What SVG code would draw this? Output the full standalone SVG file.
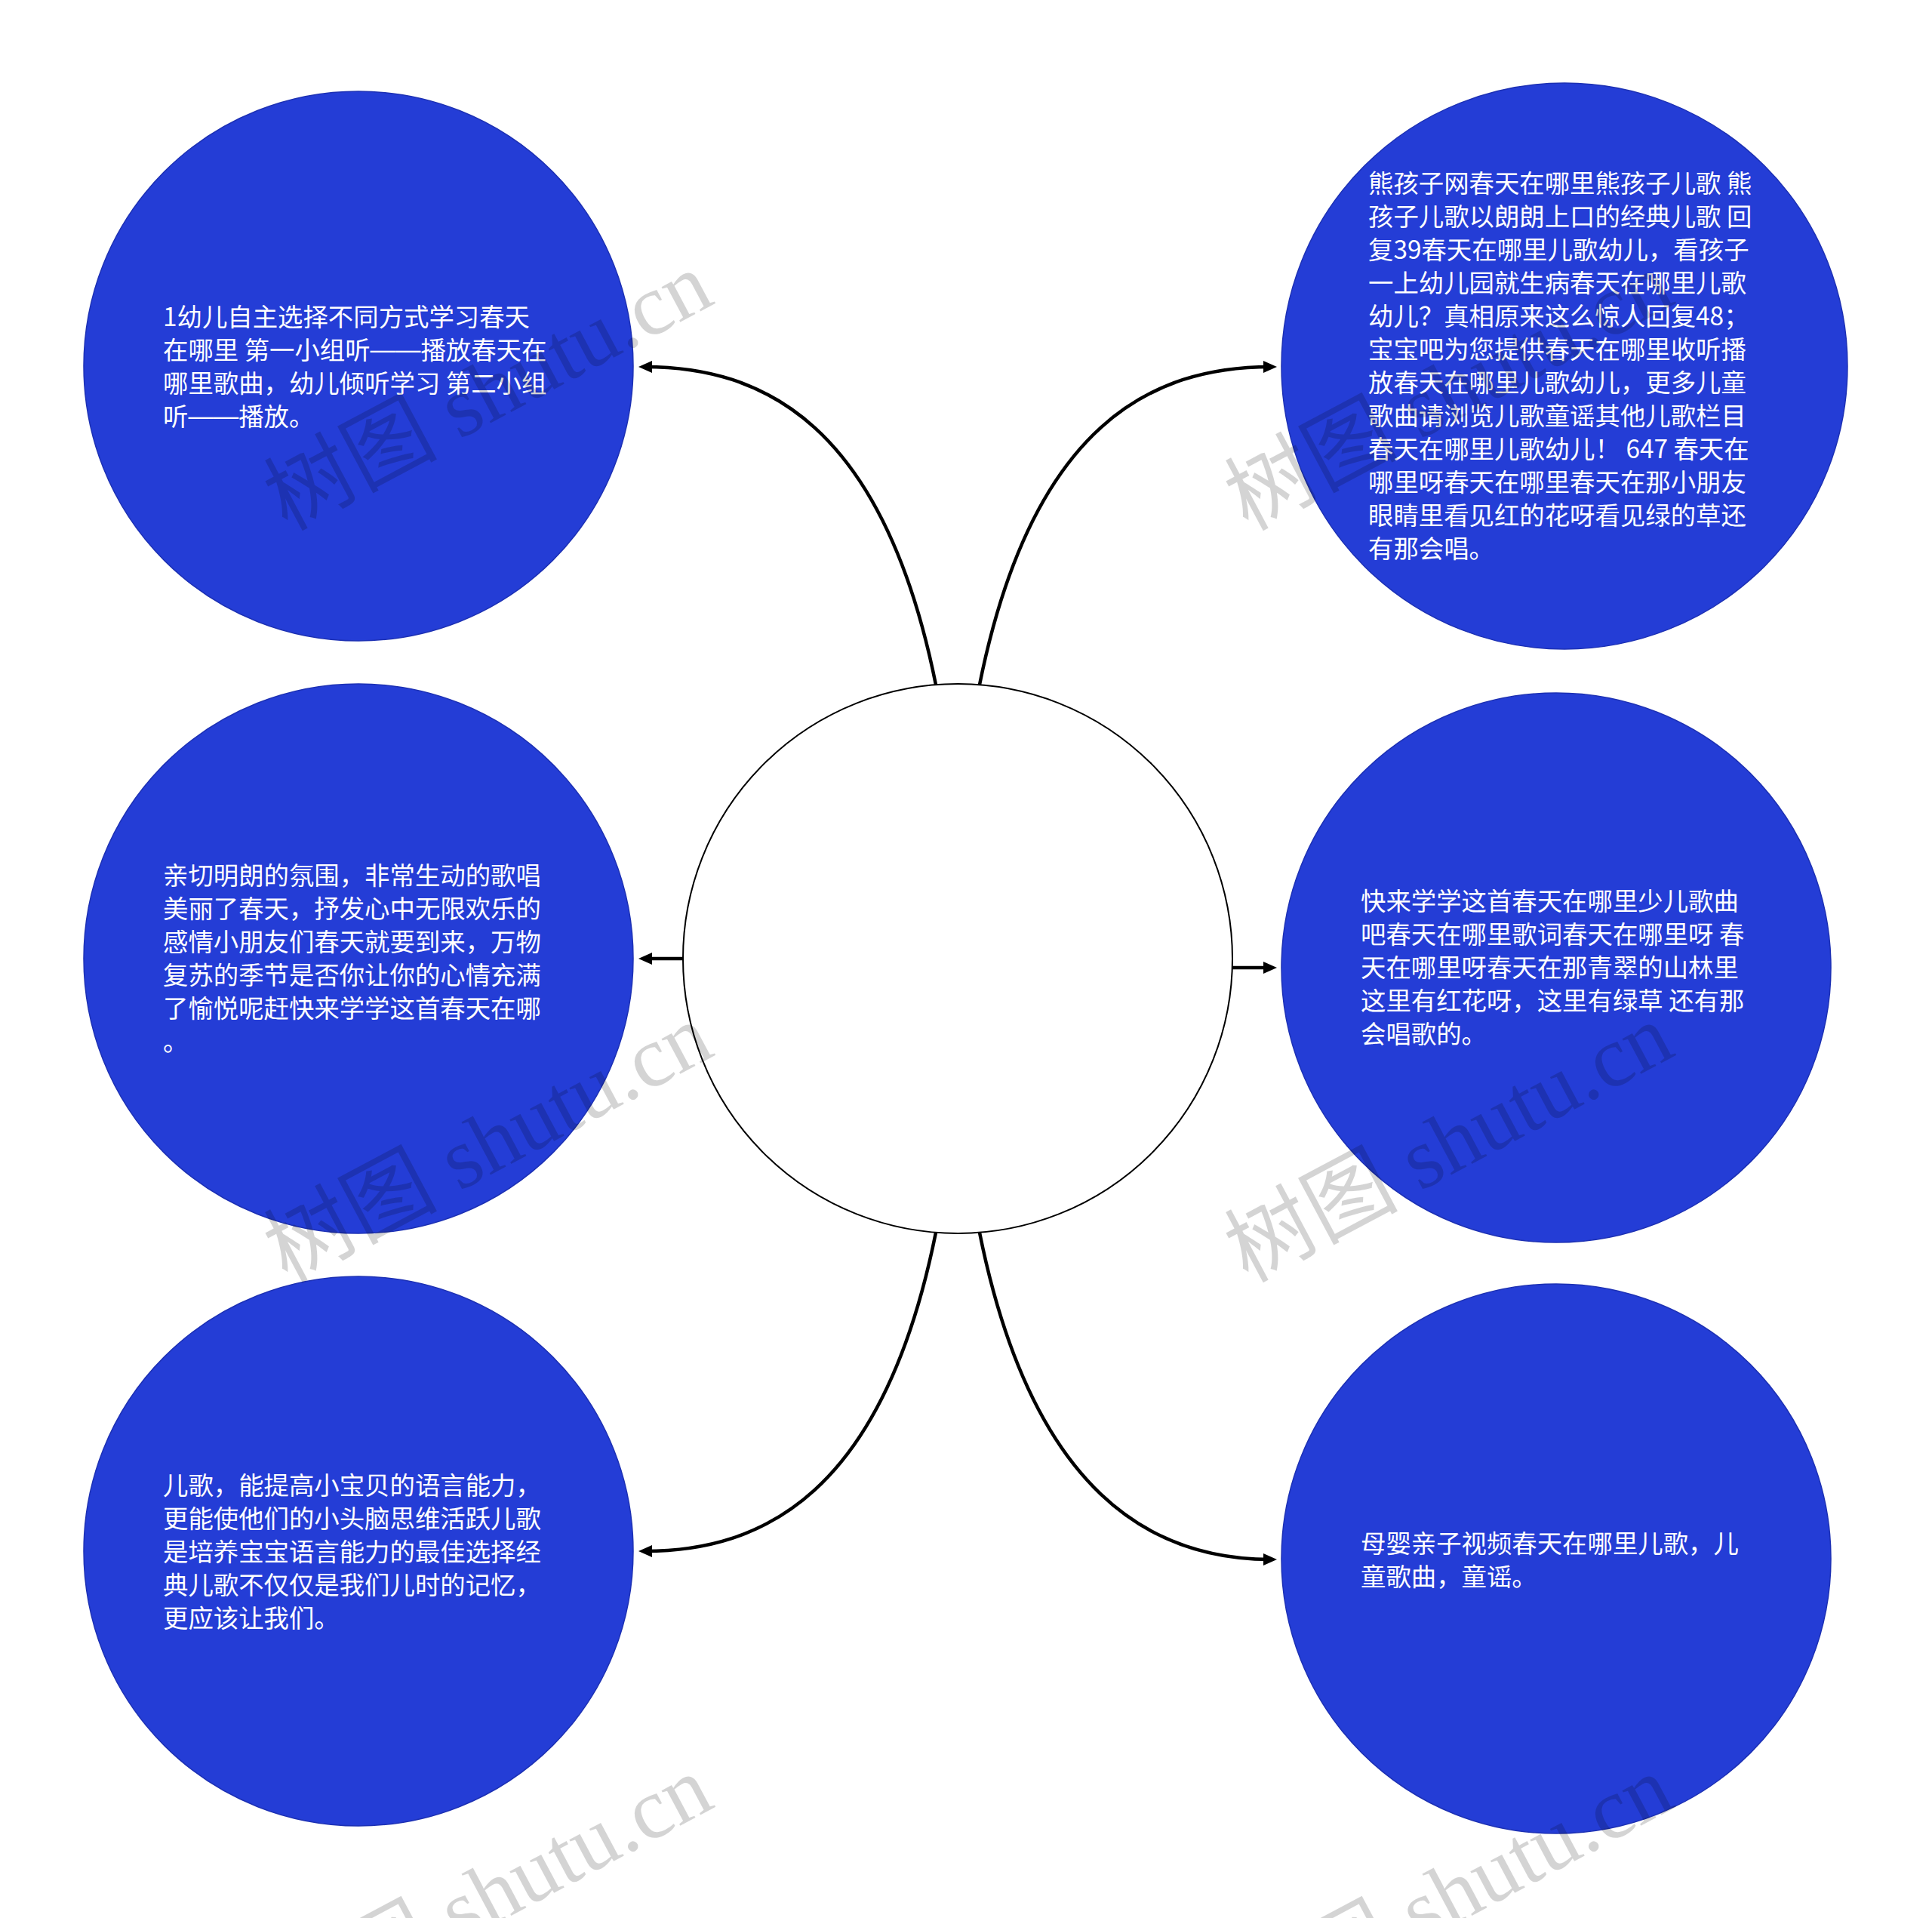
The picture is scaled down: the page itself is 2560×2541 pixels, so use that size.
<svg xmlns="http://www.w3.org/2000/svg" width="2560" height="2541" viewBox="0 0 2560 2541">
<defs>
<style>
.leaf{fill:#243dd6;stroke:#1c30b4;stroke-width:1.5}
.root{fill:#ffffff;stroke:#000000;stroke-width:2}
.lbl{font-family:"Noto Sans CJK SC","Noto Sans",sans-serif;font-size:33.4px;fill:#ffffff}
.dash{font-family:"Liberation Sans",sans-serif}
.edge{fill:none;stroke:#000000;stroke-width:4.5}
.wm{font-family:"Liberation Serif","Noto Sans CJK SC",serif;font-size:115px;fill:#000000;fill-opacity:0.17}
</style>
<marker id="arr" markerUnits="userSpaceOnUse" markerWidth="20" markerHeight="18" viewBox="0 0 20 18" refX="10" refY="9" orient="auto">
<path d="M0,1 L18,9 L0,17 z" fill="#000000"/>
</marker>
</defs>
<rect x="0" y="0" width="2560" height="2541" fill="#ffffff"/>
<g id="connectors">
<path class="edge" d="M1240,907 C1170,560 1010,486 854,486" marker-end="url(#arr)"/>
<path class="edge" d="M1298,907 C1368,560 1528,486 1684,486" marker-end="url(#arr)"/>
<path class="edge" d="M905,1270 L854,1270" marker-end="url(#arr)"/>
<path class="edge" d="M1633,1282 L1684,1282" marker-end="url(#arr)"/>
<path class="edge" d="M1240,1633 C1170,1980 1010,2055 854,2055" marker-end="url(#arr)"/>
<path class="edge" d="M1298,1633 C1368,1980 1528,2066 1684,2066" marker-end="url(#arr)"/>
</g>
<g id="node-root">
<circle class="root" cx="1269" cy="1270" r="364"/>
</g>
<g id="node-tl">
<circle class="leaf" cx="475" cy="485" r="364"/>
<text class="lbl" x="216" y="432">
<tspan x="216" y="432">1幼儿自主选择不同方式学习春天</tspan>
<tspan x="216" y="476">在哪里 第一小组听<tspan class="dash" dy="-2">——</tspan><tspan dy="2">播放春天在</tspan></tspan>
<tspan x="216" y="520">哪里歌曲，幼儿倾听学习 第二小组</tspan>
<tspan x="216" y="564">听<tspan class="dash" dy="-2">——</tspan><tspan dy="2">播放。</tspan></tspan>
</text>
</g>
<g id="node-tr">
<circle class="leaf" cx="2073" cy="485" r="375"/>
<text class="lbl" x="1813" y="255">
<tspan x="1813" y="255">熊孩子网春天在哪里熊孩子儿歌 熊</tspan>
<tspan x="1813" y="299">孩子儿歌以朗朗上口的经典儿歌 回</tspan>
<tspan x="1813" y="343">复39春天在哪里儿歌幼儿，看孩子</tspan>
<tspan x="1813" y="387">一上幼儿园就生病春天在哪里儿歌</tspan>
<tspan x="1813" y="431">幼儿？真相原来这么惊人回复48；</tspan>
<tspan x="1813" y="475">宝宝吧为您提供春天在哪里收听播</tspan>
<tspan x="1813" y="519">放春天在哪里儿歌幼儿，更多儿童</tspan>
<tspan x="1813" y="563">歌曲请浏览儿歌童谣其他儿歌栏目</tspan>
<tspan x="1813" y="607">春天在哪里儿歌幼儿！ 647 春天在</tspan>
<tspan x="1813" y="651">哪里呀春天在哪里春天在那小朋友</tspan>
<tspan x="1813" y="695">眼睛里看见红的花呀看见绿的草还</tspan>
<tspan x="1813" y="739">有那会唱。</tspan>
</text>
</g>
<g id="node-ml">
<circle class="leaf" cx="475" cy="1270" r="364"/>
<text class="lbl" x="216" y="1172">
<tspan x="216" y="1172">亲切明朗的氛围，非常生动的歌唱</tspan>
<tspan x="216" y="1216">美丽了春天，抒发心中无限欢乐的</tspan>
<tspan x="216" y="1260">感情小朋友们春天就要到来，万物</tspan>
<tspan x="216" y="1304">复苏的季节是否你让你的心情充满</tspan>
<tspan x="216" y="1348">了愉悦呢赶快来学学这首春天在哪</tspan>
<tspan x="216" y="1392">。</tspan>
</text>
</g>
<g id="node-mr">
<circle class="leaf" cx="2062" cy="1282" r="364"/>
<text class="lbl" x="1803" y="1206">
<tspan x="1803" y="1206">快来学学这首春天在哪里少儿歌曲</tspan>
<tspan x="1803" y="1250">吧春天在哪里歌词春天在哪里呀 春</tspan>
<tspan x="1803" y="1294">天在哪里呀春天在那青翠的山林里</tspan>
<tspan x="1803" y="1338">这里有红花呀，这里有绿草 还有那</tspan>
<tspan x="1803" y="1382">会唱歌的。</tspan>
</text>
</g>
<g id="node-bl">
<circle class="leaf" cx="475" cy="2055" r="364"/>
<text class="lbl" x="216" y="1980">
<tspan x="216" y="1980">儿歌，能提高小宝贝的语言能力，</tspan>
<tspan x="216" y="2024">更能使他们的小头脑思维活跃儿歌</tspan>
<tspan x="216" y="2068">是培养宝宝语言能力的最佳选择经</tspan>
<tspan x="216" y="2112">典儿歌不仅仅是我们儿时的记忆，</tspan>
<tspan x="216" y="2156">更应该让我们。</tspan>
</text>
</g>
<g id="node-br">
<circle class="leaf" cx="2062" cy="2065" r="364"/>
<text class="lbl" x="1803" y="2057">
<tspan x="1803" y="2057">母婴亲子视频春天在哪里儿歌，儿</tspan>
<tspan x="1803" y="2101">童歌曲，童谣。</tspan>
</text>
</g>
<g id="watermarks">
<text class="wm" transform="translate(380,704) rotate(-28)">树图 shutu.cn</text>
<text class="wm" transform="translate(1653,704) rotate(-28)">树图 shutu.cn</text>
<text class="wm" transform="translate(380,1700) rotate(-28)">树图 shutu.cn</text>
<text class="wm" transform="translate(1653,1700) rotate(-28)">树图 shutu.cn</text>
<text class="wm" transform="translate(380,2696) rotate(-28)">树图 shutu.cn</text>
<text class="wm" transform="translate(1653,2696) rotate(-28)">树图 shutu.cn</text>
</g>
</svg>
